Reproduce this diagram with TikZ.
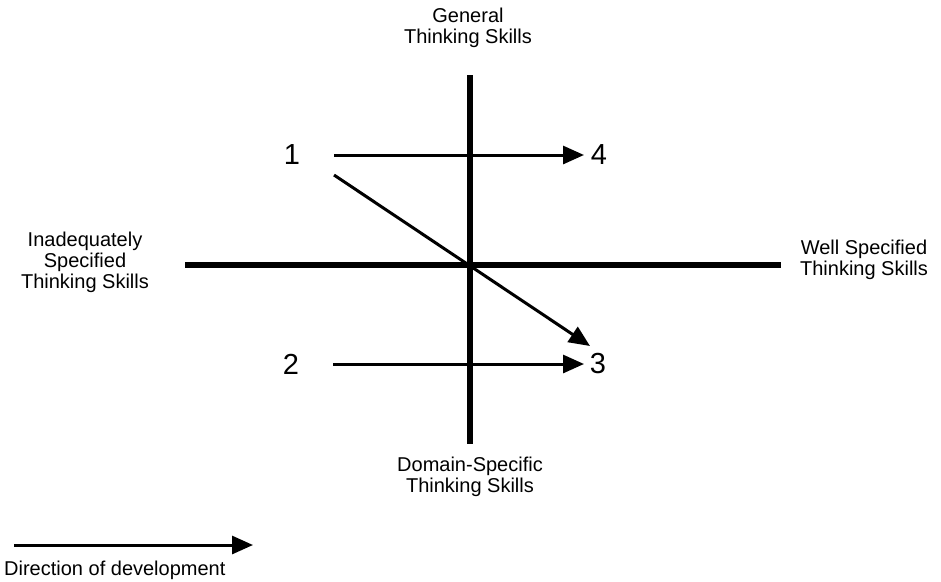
\documentclass[tikz,border=0pt]{standalone}
\usepackage{fontspec}
\setmainfont{Liberation Sans}
\usetikzlibrary{arrows.meta}
\begin{document}
\begin{tikzpicture}[x=1pt,y=-1pt,
  axis/.style={line width=6pt},
  devarrow/.style={line width=3pt,-{Triangle[length=21pt,width=18pt]}},
  lbl/.style={font=\fontsize{20}{21}\selectfont,align=center,inner sep=0pt},
  num/.style={font=\fontsize{29}{30}\selectfont,inner sep=0pt}]
\useasboundingbox (0,0) rectangle (941,581);
% axes
\coordinate (vt) at (470,75);
\coordinate (vb) at (470,444);
\coordinate (hl) at (185,265);
\coordinate (hr) at (781,265);
\draw[axis] (vt) -- (vb);
\draw[axis] (hl) -- (hr);
% axis labels
\node[lbl] (gen) at (468,28) {General\\Thinking Skills};
\node[lbl] (dom) at (470,477) {Domain-Specific\\Thinking Skills};
\node[lbl] (ina) at (85,262) {Inadequately\\Specified\\Thinking Skills};
\node[lbl] (well) at (864,260) {Well Specified\\Thinking Skills};
% numbers
\node[num] (n1) at (292,155) {1};
\node[num] (n4) at (599,155) {4};
\node[num] (n2) at (291,364) {2};
\node[num] (n3) at (598,364) {3};
% arrows
\coordinate (a1s) at (334,155);
\coordinate (a4e) at (584,155);
\coordinate (a2s) at (333,364);
\coordinate (a3e) at (584,364);
\coordinate (d1s) at (334,175);
\coordinate (d3e) at (590,346);
\draw[devarrow] (a1s) -- (a4e);
\draw[devarrow] (a2s) -- (a3e);
\draw[devarrow] (d1s) -- (d3e);
% legend
\coordinate (ls) at (14,545);
\coordinate (le) at (253,545);
\draw[devarrow] (ls) -- (le);
\node[lbl,anchor=west] (leg) at (4,570) {Direction of development};
\end{tikzpicture}
\end{document}
